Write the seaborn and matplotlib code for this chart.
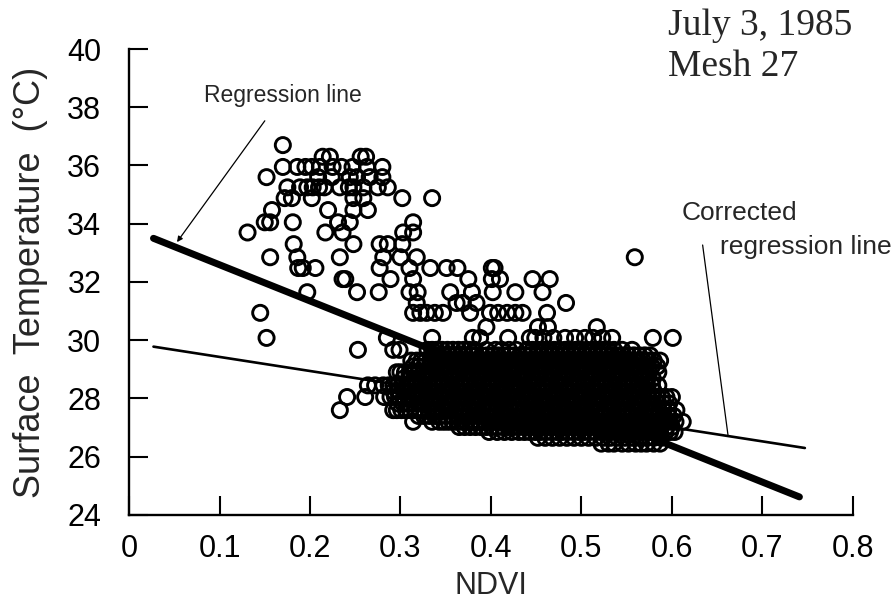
import matplotlib
matplotlib.use("Agg")
import matplotlib.pyplot as plt
import seaborn as sns
import pandas as pd

# ---------------- data ----------------
x_ticks = [0, 0.1, 0.2, 0.3, 0.4, 0.5, 0.6, 0.7, 0.8]
x_tick_labels = ["0", "0.1", "0.2", "0.3", "0.4", "0.5", "0.6", "0.7", "0.8"]
y_ticks = [24, 26, 28, 30, 32, 34, 36, 38, 40]

# temperature rows (°C) and NDVI values of points in each row
T_ROWS = [36.70, 36.30, 35.95, 35.60, 35.25, 34.88, 34.47, 34.05, 33.70, 33.30,
          32.85, 32.48, 32.10, 31.65, 31.28, 30.94, 30.45, 30.08, 29.67,
          29.67, 29.30, 28.90, 28.45, 28.05, 27.60, 27.20, 26.85, 26.45,
          29.48, 29.10, 28.68, 28.25, 27.83, 27.40, 27.02, 26.65]

NDVI_R01 = [0.170]
NDVI_R02 = [0.214, 0.222, 0.256, 0.262]
NDVI_R03 = [0.170, 0.186, 0.195, 0.202, 0.211, 0.225, 0.235, 0.247, 0.263, 0.280]
NDVI_R04 = [0.152, 0.209, 0.224, 0.244, 0.252, 0.266, 0.280]
NDVI_R05 = [0.175, 0.189, 0.197, 0.203, 0.210, 0.216, 0.233, 0.243, 0.248, 0.259, 0.275, 0.286]
NDVI_R06 = [0.172, 0.180, 0.202, 0.248, 0.259, 0.302, 0.335]
NDVI_R07 = [0.158, 0.220, 0.248, 0.264]
NDVI_R08 = [0.150, 0.156, 0.181, 0.231, 0.244, 0.314]
NDVI_R09 = [0.131, 0.217, 0.236, 0.303, 0.314]
NDVI_R10 = [0.182, 0.248, 0.277, 0.286, 0.302]
NDVI_R11 = [0.156, 0.186, 0.233, 0.281, 0.300, 0.318, 0.559]
NDVI_R12 = [0.187, 0.192, 0.206, 0.277, 0.310, 0.333, 0.351, 0.363, 0.401, 0.404]
NDVI_R13 = [0.236, 0.239, 0.289, 0.314, 0.375, 0.401, 0.410, 0.446, 0.465]
NDVI_R14 = [0.197, 0.252, 0.276, 0.310, 0.319, 0.355, 0.379, 0.402, 0.427, 0.457]
NDVI_R15 = [0.318, 0.362, 0.369, 0.384, 0.483]
NDVI_R16 = [0.145, 0.314, 0.322, 0.329, 0.338, 0.347, 0.377, 0.399, 0.408, 0.418,
            0.427, 0.435, 0.462]
NDVI_R17 = [0.395, 0.452, 0.463, 0.517]
NDVI_R18 = [0.152, 0.285, 0.335, 0.380, 0.388, 0.419, 0.443, 0.449, 0.458, 0.469,
            0.482, 0.493, 0.504, 0.513, 0.523, 0.534, 0.579, 0.601]
NDVI_R19 = [0.253, 0.292, 0.299]
NDVI_D1 = [0.330, 0.335, 0.340, 0.346, 0.352, 0.358, 0.364, 0.370, 0.376, 0.382,
           0.395, 0.405, 0.412, 0.420, 0.428, 0.440, 0.446, 0.452, 0.458, 0.464,
           0.470, 0.476, 0.482, 0.488, 0.494, 0.500, 0.506, 0.512, 0.518, 0.524,
           0.530, 0.536, 0.545, 0.556]
NDVI_D2 = [0.312, 0.318, 0.323, 0.328, 0.333, 0.338, 0.343, 0.348, 0.353, 0.358,
           0.363, 0.368, 0.373, 0.378, 0.383, 0.388, 0.393, 0.398, 0.403, 0.408,
           0.413, 0.418, 0.423, 0.428, 0.433, 0.438, 0.443, 0.448, 0.453, 0.458,
           0.463, 0.468, 0.473, 0.478, 0.483, 0.488, 0.493, 0.498, 0.503, 0.508,
           0.513, 0.518, 0.523, 0.528, 0.533, 0.538, 0.543, 0.548, 0.553, 0.558,
           0.563, 0.568, 0.574, 0.580, 0.587]
NDVI_D3 = [0.296, 0.300, 0.305, 0.310, 0.315, 0.320, 0.325, 0.330, 0.335, 0.340,
           0.345, 0.350, 0.355, 0.360, 0.365, 0.370, 0.375, 0.380, 0.385, 0.390,
           0.395, 0.400, 0.405, 0.410, 0.415, 0.420, 0.425, 0.430, 0.435, 0.440,
           0.445, 0.450, 0.455, 0.460, 0.465, 0.470, 0.475, 0.480, 0.485, 0.490,
           0.495, 0.500, 0.505, 0.510, 0.515, 0.520, 0.525, 0.530, 0.535, 0.540,
           0.545, 0.550, 0.555, 0.560, 0.565, 0.570, 0.575, 0.585]
NDVI_D4 = [0.264, 0.272, 0.281, 0.287, 0.292, 0.297, 0.302, 0.307, 0.312, 0.317,
           0.322, 0.327, 0.332, 0.337, 0.342, 0.347, 0.352, 0.357, 0.362, 0.367,
           0.372, 0.377, 0.382, 0.387, 0.392, 0.397, 0.402, 0.407, 0.412, 0.417,
           0.422, 0.427, 0.432, 0.437, 0.442, 0.447, 0.452, 0.457, 0.462, 0.467,
           0.472, 0.477, 0.482, 0.487, 0.492, 0.497, 0.502, 0.507, 0.512, 0.517,
           0.522, 0.527, 0.532, 0.537, 0.542, 0.547, 0.552, 0.557, 0.562, 0.567,
           0.572, 0.578, 0.585]
NDVI_D5 = [0.241, 0.261, 0.282, 0.289, 0.294, 0.299, 0.304, 0.309, 0.314, 0.319,
           0.324, 0.329, 0.334, 0.339, 0.344, 0.349, 0.354, 0.359, 0.364, 0.369,
           0.374, 0.379, 0.384, 0.389, 0.394, 0.399, 0.404, 0.409, 0.414, 0.419,
           0.424, 0.429, 0.434, 0.439, 0.444, 0.449, 0.454, 0.459, 0.464, 0.469,
           0.474, 0.479, 0.484, 0.489, 0.494, 0.499, 0.504, 0.509, 0.514, 0.519,
           0.524, 0.529, 0.534, 0.539, 0.544, 0.549, 0.554, 0.559, 0.564, 0.569,
           0.574, 0.579, 0.584, 0.589, 0.594, 0.600]
NDVI_D6 = [0.233, 0.292, 0.296, 0.301, 0.306, 0.311, 0.316, 0.321, 0.326, 0.331,
           0.336, 0.341, 0.346, 0.351, 0.356, 0.361, 0.366, 0.371, 0.376, 0.381,
           0.386, 0.391, 0.396, 0.401, 0.406, 0.411, 0.416, 0.421, 0.426, 0.431,
           0.436, 0.441, 0.446, 0.451, 0.456, 0.461, 0.466, 0.471, 0.476, 0.481,
           0.486, 0.491, 0.496, 0.501, 0.506, 0.511, 0.516, 0.521, 0.526, 0.531,
           0.536, 0.541, 0.546, 0.551, 0.556, 0.561, 0.566, 0.571, 0.576, 0.581,
           0.586, 0.591, 0.596, 0.605]
NDVI_D7 = [0.314, 0.335, 0.343, 0.348, 0.353, 0.358, 0.363, 0.368, 0.373, 0.378,
           0.383, 0.388, 0.393, 0.398, 0.403, 0.408, 0.413, 0.418, 0.423, 0.428,
           0.433, 0.438, 0.443, 0.448, 0.453, 0.458, 0.463, 0.468, 0.473, 0.478,
           0.483, 0.488, 0.493, 0.498, 0.503, 0.508, 0.513, 0.518, 0.523, 0.528,
           0.533, 0.538, 0.543, 0.548, 0.553, 0.558, 0.563, 0.568, 0.573, 0.578,
           0.583, 0.588, 0.593, 0.598, 0.604, 0.612]
NDVI_D8 = [0.398, 0.407, 0.415, 0.423, 0.431, 0.437, 0.443, 0.449, 0.455, 0.461,
           0.467, 0.473, 0.479, 0.485, 0.491, 0.497, 0.503, 0.509, 0.515, 0.521,
           0.527, 0.533, 0.539, 0.545, 0.551, 0.557, 0.563, 0.569, 0.575, 0.581,
           0.587, 0.593, 0.598, 0.603]
NDVI_D9 = [0.522, 0.530, 0.536, 0.545, 0.552, 0.560, 0.566, 0.572, 0.580, 0.587]
# points hidden inside the solid black block (between the visible rows)
NDVI_I1 = [0.336, 0.342, 0.348, 0.354, 0.360, 0.366, 0.372, 0.378, 0.384, 0.390,
           0.396, 0.402, 0.408, 0.414, 0.420, 0.426, 0.432, 0.438, 0.444, 0.450,
           0.456, 0.462, 0.468, 0.474, 0.480, 0.486, 0.492, 0.498, 0.504, 0.510,
           0.516, 0.522, 0.528, 0.534, 0.540, 0.546, 0.552, 0.558, 0.564, 0.570,
           0.576]
NDVI_I2 = [0.314, 0.320, 0.326, 0.332, 0.338, 0.344, 0.350, 0.356, 0.362, 0.368,
           0.374, 0.380, 0.386, 0.392, 0.398, 0.404, 0.410, 0.416, 0.422, 0.428,
           0.434, 0.440, 0.446, 0.452, 0.458, 0.464, 0.470, 0.476, 0.482, 0.488,
           0.494, 0.500, 0.506, 0.512, 0.518, 0.524, 0.530, 0.536, 0.542, 0.548,
           0.554, 0.560, 0.566, 0.572, 0.578, 0.584]
NDVI_I3 = [0.303, 0.309, 0.315, 0.321, 0.327, 0.333, 0.339, 0.345, 0.351, 0.357,
           0.363, 0.369, 0.375, 0.381, 0.387, 0.393, 0.399, 0.405, 0.411, 0.417,
           0.423, 0.429, 0.435, 0.441, 0.447, 0.453, 0.459, 0.465, 0.471, 0.477,
           0.483, 0.489, 0.495, 0.501, 0.507, 0.513, 0.519, 0.525, 0.531, 0.537,
           0.543, 0.549, 0.555, 0.561, 0.567, 0.573, 0.579]
NDVI_I4 = [0.292, 0.298, 0.304, 0.310, 0.316, 0.322, 0.328, 0.334, 0.340, 0.346,
           0.352, 0.358, 0.364, 0.370, 0.376, 0.382, 0.388, 0.394, 0.400, 0.406,
           0.412, 0.418, 0.424, 0.430, 0.436, 0.442, 0.448, 0.454, 0.460, 0.466,
           0.472, 0.478, 0.484, 0.490, 0.496, 0.502, 0.508, 0.514, 0.520, 0.526,
           0.532, 0.538, 0.544, 0.550, 0.556, 0.562, 0.568, 0.574, 0.580]
NDVI_I5 = [0.297, 0.303, 0.309, 0.315, 0.321, 0.327, 0.333, 0.339, 0.345, 0.351,
           0.357, 0.363, 0.369, 0.375, 0.381, 0.387, 0.393, 0.399, 0.405, 0.411,
           0.417, 0.423, 0.429, 0.435, 0.441, 0.447, 0.453, 0.459, 0.465, 0.471,
           0.477, 0.483, 0.489, 0.495, 0.501, 0.507, 0.513, 0.519, 0.525, 0.531,
           0.537, 0.543, 0.549, 0.555, 0.561, 0.567, 0.573, 0.579, 0.585, 0.591,
           0.597]
NDVI_I6 = [0.320, 0.326, 0.332, 0.338, 0.344, 0.350, 0.356, 0.362, 0.368, 0.374,
           0.380, 0.386, 0.392, 0.398, 0.404, 0.410, 0.416, 0.422, 0.428, 0.434,
           0.440, 0.446, 0.452, 0.458, 0.464, 0.470, 0.476, 0.482, 0.488, 0.494,
           0.500, 0.506, 0.512, 0.518, 0.524, 0.530, 0.536, 0.542, 0.548, 0.554,
           0.560, 0.566, 0.572, 0.578, 0.584, 0.590, 0.596, 0.602]
NDVI_I7 = [0.365, 0.371, 0.377, 0.383, 0.389, 0.395, 0.401, 0.407, 0.413, 0.419,
           0.425, 0.431, 0.437, 0.443, 0.449, 0.455, 0.461, 0.467, 0.473, 0.479,
           0.485, 0.491, 0.497, 0.503, 0.509, 0.515, 0.521, 0.527, 0.533, 0.539,
           0.545, 0.551, 0.557, 0.563, 0.569, 0.575, 0.581, 0.587, 0.594, 0.600]
NDVI_I8 = [0.452, 0.460, 0.468, 0.476, 0.484, 0.492, 0.500, 0.508, 0.516, 0.524,
           0.532, 0.540, 0.548, 0.556, 0.564, 0.572, 0.580, 0.588]

NDVI_ROWS = [NDVI_R01, NDVI_R02, NDVI_R03, NDVI_R04, NDVI_R05, NDVI_R06, NDVI_R07,
             NDVI_R08, NDVI_R09, NDVI_R10, NDVI_R11, NDVI_R12, NDVI_R13, NDVI_R14,
             NDVI_R15, NDVI_R16, NDVI_R17, NDVI_R18, NDVI_R19,
             NDVI_D1, NDVI_D2, NDVI_D3, NDVI_D4, NDVI_D5, NDVI_D6, NDVI_D7,
             NDVI_D8, NDVI_D9,
             NDVI_I1, NDVI_I2, NDVI_I3, NDVI_I4, NDVI_I5, NDVI_I6, NDVI_I7,
             NDVI_I8]

# regression lines (end points)
reg_ndvi = [0.027, 0.741]
reg_temp = [33.50, 24.62]
corr_ndvi = [0.027, 0.747]
corr_temp = [29.78, 26.30]

# ---------------- build table ----------------
ndvi_vals, temp_vals = [], []
for t, row in zip(T_ROWS, NDVI_ROWS):
    for v in row:
        ndvi_vals.append(v)
        temp_vals.append(t)
df = pd.DataFrame({"NDVI": ndvi_vals, "Temp": temp_vals})
df_reg = pd.DataFrame({"NDVI": reg_ndvi, "Temp": reg_temp})
df_corr = pd.DataFrame({"NDVI": corr_ndvi, "Temp": corr_temp})

# ---------------- plot ----------------
sns.set_style("ticks")
plt.rcParams["font.family"] = ["Liberation Sans", "DejaVu Sans"]

fig = plt.figure(figsize=(8.93, 6.08), dpi=100)
ax = fig.add_axes([0.1445, 0.153, 0.8105, 0.7664])

sns.scatterplot(data=df, x="NDVI", y="Temp", ax=ax, marker="o", s=118,
                facecolor="none", edgecolor="black", linewidth=2.1, zorder=3)
sns.lineplot(data=df_reg, x="NDVI", y="Temp", ax=ax, color="black", lw=5.0,
             estimator=None, sort=False, zorder=4, solid_capstyle="round")
sns.lineplot(data=df_corr, x="NDVI", y="Temp", ax=ax, color="black", lw=1.9,
             estimator=None, sort=False, zorder=4)

ax.set_xlim(0, 0.8)
ax.set_ylim(24, 40)
ax.set_xticks(x_ticks)
ax.set_xticklabels(x_tick_labels)
ax.set_yticks(y_ticks)
ax.set_yticklabels([str(v) for v in y_ticks])
for s in ["top", "right"]:
    ax.spines[s].set_visible(False)
for s in ["left", "bottom"]:
    ax.spines[s].set_linewidth(1.7)
    ax.spines[s].set_color("black")
ax.tick_params(axis="both", direction="in", length=14, width=1.5,
               labelsize=22, colors="black")
ax.tick_params(axis="y", pad=20)
ax.tick_params(axis="x", pad=14)

ax.set_xlabel("NDVI", fontsize=22, labelpad=5)
ax.set_ylabel("Surface  Temperature  (°C)", fontsize=26, labelpad=14)

# annotations
ax.annotate("Regression line", xy=(0.053, 33.37), xytext=(0.170, 38.39),
            ha="center", va="center", fontsize=16.5,
            arrowprops=dict(arrowstyle="-|>", lw=0.9, color="black",
                            mutation_scale=8, shrinkA=9, shrinkB=0))
ax.text(0.611, 34.37, "Corrected", ha="left", va="center", fontsize=19)
ax.text(0.653, 33.20, "regression line", ha="left", va="center", fontsize=19)
ax.annotate("", xy=(0.662, 26.75), xytext=(0.634, 33.27),
            arrowprops=dict(arrowstyle="-", lw=0.9, color="black",
                            shrinkA=0, shrinkB=0))

fig.text(0.748, 0.958, "July 3, 1985", family=["Liberation Serif", "DejaVu Serif"],
         fontsize=27, ha="left", va="center")
fig.text(0.748, 0.890, "Mesh 27", family=["Liberation Serif", "DejaVu Serif"],
         fontsize=27, ha="left", va="center")

for c in ax.collections:
    c.set_clip_on(False)
for l in ax.lines:
    l.set_clip_on(False)

fig.savefig("out.png", dpi=100, facecolor="white")
